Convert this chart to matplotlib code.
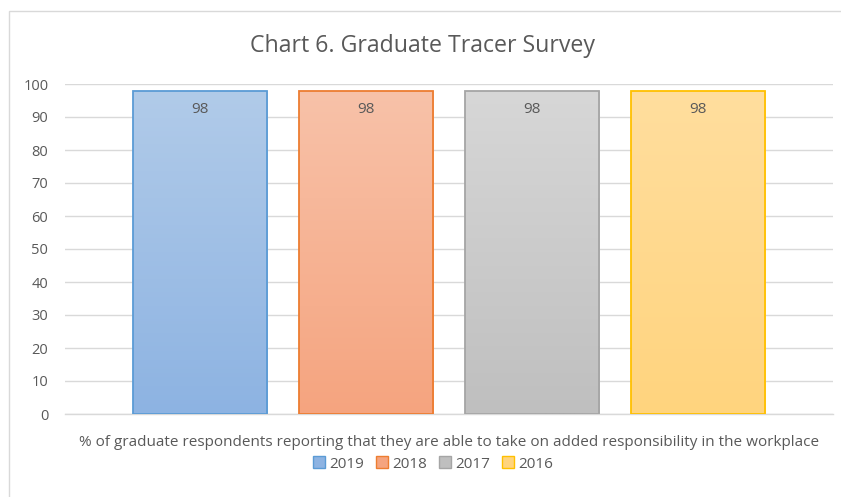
"""
Chart 6 - Graduate Tracer Survey, one category with four yearly bars.
"""
import matplotlib
matplotlib.use('Agg')
import matplotlib.pyplot as plt
import numpy as np
from matplotlib.colors import LinearSegmentedColormap
from matplotlib.patches import Rectangle, Patch

plt.rcParams['font.family'] = ['Open Sans', 'DejaVu Sans']

# Data
CATEGORY = '% of graduate respondents reporting that they are able to take on added responsibility in the workplace'
YEARS = ['2019', '2018', '2017', '2016']
VALUES = [98, 98, 98, 98]
Y_TICKS = [0, 10, 20, 30, 40, 50, 60, 70, 80, 90, 100]

# Colours: (edge, top of gradient, bottom of gradient)
EDGE_COLORS = ['#5B9BD5', '#ED7D31', '#A5A5A5', '#FFC000']
TOP_COLORS = ['#B1CBE9', '#F8C2A9', '#D7D7D7', '#FFDE9E']
BOTTOM_COLORS = ['#8DB3E2', '#F5A47F', '#BFBFBF', '#FFD47E']
TEXT_GRAY = '#595959'

W, H = 841, 497
fig = plt.figure(figsize=(W / 100, H / 100), dpi=100)

# chart border (Excel chart area)
fig.add_artist(Rectangle((9 / W, -0.1), 1.2, 1 - 11 / H + 0.1, transform=fig.transFigure,
                         facecolor='none', edgecolor='#D9D9D9', linewidth=1))

ax = fig.add_axes([65 / W, (H - 414) / H, (833 - 65) / W, (414 - 84) / H])

bar_w = 0.1745
step = 0.2165
offsets = (np.arange(len(YEARS)) - (len(YEARS) - 1) / 2) * step

for i, (year, val) in enumerate(zip(YEARS, VALUES)):
    x0 = offsets[i]
    bars = ax.bar(x0, val, width=bar_w, facecolor='none', edgecolor=EDGE_COLORS[i],
                  linewidth=1.3, zorder=3)
    patch = bars[0]
    cmap = LinearSegmentedColormap.from_list('g%d' % i, [BOTTOM_COLORS[i], TOP_COLORS[i]])
    grad = np.linspace(0, 1, 256).reshape(-1, 1)
    im = ax.imshow(grad, cmap=cmap, aspect='auto', origin='lower',
                   extent=(x0 - bar_w / 2, x0 + bar_w / 2, 0, val), zorder=2)
    im.set_clip_path(patch)
    ax.text(x0, val - 3.5, str(val), ha='center', va='top', fontsize=11, color=TEXT_GRAY, zorder=4)

ax.set_xlim(-0.5, 0.5)
ax.set_ylim(0, 100)
ax.set_yticks(Y_TICKS)
ax.set_xticks([])
ax.tick_params(axis='y', length=0, labelsize=10.5, labelcolor=TEXT_GRAY, pad=12)
ax.yaxis.grid(True, color='#D9D9D9', linewidth=1)
ax.set_axisbelow(True)
for side in ['top', 'right', 'left']:
    ax.spines[side].set_visible(False)
ax.spines['bottom'].set_color('#D9D9D9')
ax.spines['bottom'].set_linewidth(1)

ax.set_xlabel(CATEGORY, fontsize=11, color=TEXT_GRAY, labelpad=15)

fig.text(423 / W, 1 - 46 / H, 'Chart 6. Graduate Tracer Survey', ha='center', va='center',
         fontsize=16.7, color=TEXT_GRAY)

handles = [Patch(facecolor=BOTTOM_COLORS[i], edgecolor=EDGE_COLORS[i], label=YEARS[i])
           for i in range(len(YEARS))]
fig.legend(handles=handles, loc='center', bbox_to_anchor=(433 / W, 1 - 464 / H), ncol=4,
           frameon=False, fontsize=11, labelcolor=TEXT_GRAY, handlelength=0.8,
           handleheight=0.8, handletextpad=0.3, columnspacing=0.75)

fig.savefig('out.png', dpi=100)
